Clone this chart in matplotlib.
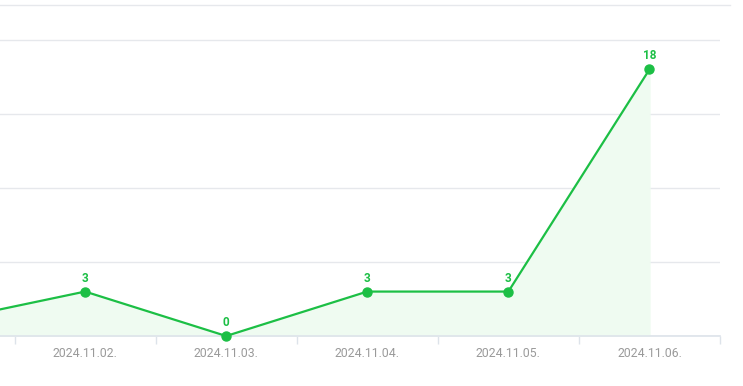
import matplotlib.pyplot as plt
from matplotlib.lines import Line2D

dates = ["2024.11.01.", "2024.11.02.", "2024.11.03.", "2024.11.04.", "2024.11.05.", "2024.11.06."]
counts = [1, 3, 0, 3, 3, 18]

green = "#1cbf45"
fill = "#effbf1"
grid = "#e6e8ec"

plt.rcParams["font.family"] = ["Roboto", "DejaVu Sans"]

fig = plt.figure(figsize=(7.43, 3.86), dpi=100)
ax = fig.add_axes([0, 50 / 386, 720 / 743, (336 - 5) / 386])

x = list(range(len(dates)))
ax.fill_between(x, counts, 0, color=fill, zorder=1)
ax.plot(x, counts, color=green, lw=1.6, marker="o", ms=6.5, zorder=3, clip_on=False)

ax.set_yticks([0, 5, 10, 15, 20])
ax.yaxis.grid(True, color=grid, lw=1)
ax.set_axisbelow(True)
ax.tick_params(axis="y", left=False, labelleft=False)

ax.set_xticks(x)
ax.set_xticklabels(dates)
ax.set_xticks([i + 0.5 for i in range(len(dates))], minor=True)
ax.tick_params(axis="x", which="major", length=0, pad=8, labelsize=8.8, labelcolor="#9a9a9a")
ax.tick_params(axis="x", which="minor", length=6, width=1, color="#dde3ea", direction="out")

# the chart is scrolled: first day sits left of the visible area
ax.set_xlim(56 / 141, 5.5)
ax.set_ylim(0, 22.35)

for xi, c in zip(x, counts):
    if xi < 56 / 141:
        continue
    ax.annotate(str(c), (xi, c), xytext=(0, 5), textcoords="offset points",
                ha="center", va="bottom", color=green, fontsize=8.5, fontweight="bold")

for s in ["top", "left", "right"]:
    ax.spines[s].set_visible(False)
ax.spines["bottom"].set_color("#dde3ea")
ax.spines["bottom"].set_linewidth(1.2)

fig.add_artist(Line2D([0, 730 / 743], [1 - 5 / 386, 1 - 5 / 386], color=grid, lw=1))

fig.savefig("out.png", dpi=100)
